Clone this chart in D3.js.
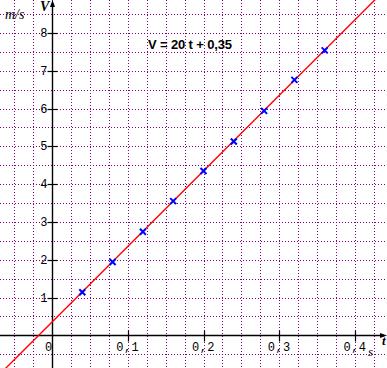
<!DOCTYPE html>
<html>
<head>
<meta charset="utf-8">
<script src="https://cdn.jsdelivr.net/npm/d3@7"></script>
<style>
  html, body { margin: 0; padding: 0; background: #fff; }
  svg { display: block; }
</style>
</head>
<body>
<div id="chart"></div>
<script>
// measured points (t in s, V in m/s)
var tValues = [0.04, 0.08, 0.12, 0.16, 0.20, 0.24, 0.28, 0.32, 0.36];
var vValues = [1.14, 1.94, 2.74, 3.55, 4.35, 5.13, 5.94, 6.76, 7.54];

// regression line V = 20 t + 0,35
var fitSlope = [20];
var fitIntercept = [0.35];

var xTicks = [0.1, 0.2, 0.3, 0.4];
var xTickLabels = ["0,1", "0,2", "0,3", "0,4"];
var yTicks = [1, 2, 3, 4, 5, 6, 7, 8];
var yTickLabels = ["1", "2", "3", "4", "5", "6", "7", "8"];

var width = 387, height = 368;

var x = d3.scaleLinear().domain([0, 0.4]).range([52, 355]);
var y = d3.scaleLinear().domain([0, 8]).range([335.3, 33]);

var svg = d3.select("#chart").append("svg")
    .attr("width", width)
    .attr("height", height);

// dotted grid, every 0.025 s and 0.5 m/s across the whole view
var tMin = x.invert(0), tMax = x.invert(width);
var vMin = y.invert(height), vMax = y.invert(0);
var gx = d3.range(Math.ceil(tMin / 0.025), Math.floor(tMax / 0.025) + 1).map(function(k) { return k * 0.025; });
var gy = d3.range(Math.ceil(vMin / 0.5), Math.floor(vMax / 0.5) + 1).map(function(k) { return k * 0.5; });

svg.append("g").selectAll("line").data(gx).enter().append("line")
    .attr("x1", function(d) { return Math.round(x(d)) + 0.5; })
    .attr("x2", function(d) { return Math.round(x(d)) + 0.5; })
    .attr("y1", 0).attr("y2", height)
    .attr("stroke", "#800080").attr("stroke-width", 1)
    .attr("stroke-dasharray", "1,2");

svg.append("g").selectAll("line").data(gy).enter().append("line")
    .attr("y1", function(d) { return Math.round(y(d)) + 0.5; })
    .attr("y2", function(d) { return Math.round(y(d)) + 0.5; })
    .attr("x1", 0).attr("x2", width)
    .attr("stroke", "#800080").attr("stroke-width", 1)
    .attr("stroke-dasharray", "1,2");

// axes
var x0 = Math.round(x(0)) + 0.5, y0 = Math.round(y(0)) + 0.5;
svg.append("line").attr("x1", 0).attr("x2", 384).attr("y1", y0).attr("y2", y0)
    .attr("stroke", "#000").attr("stroke-width", 1.4);
svg.append("path").attr("d", "M387," + y0 + "L380," + (y0 - 2.5) + "L380," + (y0 + 2.5) + "Z")
    .attr("fill", "#000");
svg.append("line").attr("x1", x0).attr("x2", x0).attr("y1", 3).attr("y2", height)
    .attr("stroke", "#000").attr("stroke-width", 1.4);
svg.append("path").attr("d", "M" + x0 + ",0L" + (x0 - 2.5) + ",7L" + (x0 + 2.5) + ",7Z")
    .attr("fill", "#000");

// ticks
svg.append("g").selectAll("line").data(xTicks).enter().append("line")
    .attr("x1", function(d) { return Math.round(x(d)) + 0.5; })
    .attr("x2", function(d) { return Math.round(x(d)) + 0.5; })
    .attr("y1", y0 - 5).attr("y2", y0 + 6)
    .attr("stroke", "#000").attr("stroke-width", 1.2);
svg.append("g").selectAll("line").data(yTicks).enter().append("line")
    .attr("y1", function(d) { return Math.round(y(d)) + 0.5; })
    .attr("y2", function(d) { return Math.round(y(d)) + 0.5; })
    .attr("x1", x0 - 5).attr("x2", x0 + 5)
    .attr("stroke", "#000").attr("stroke-width", 1.2);

var tickFont = "'Liberation Mono', 'DejaVu Sans Mono', monospace";

svg.append("g").selectAll("text").data(xTicks).enter().append("text")
    .attr("x", function(d) { return x(d); })
    .attr("y", y0 + 15)
    .attr("text-anchor", "middle")
    .style("font-family", tickFont).style("font-size", "12px")
    .style("letter-spacing", "0.5px")
    .attr("fill", "#000")
    .text(function(d, i) { return xTickLabels[i]; });

svg.append("text")
    .attr("x", x0 - 4).attr("y", y0 + 15)
    .attr("text-anchor", "middle")
    .style("font-family", tickFont).style("font-size", "12px")
    .text("0");

svg.append("g").selectAll("text").data(yTicks).enter().append("text")
    .attr("x", x0 - 5)
    .attr("y", function(d) { return y(d) + 4; })
    .attr("text-anchor", "end")
    .style("font-family", tickFont).style("font-size", "12px")
    .text(function(d, i) { return yTickLabels[i]; });

// axis titles
var serif = "'Liberation Serif', 'DejaVu Serif', serif";
svg.append("text").attr("x", 40).attr("y", 11)
    .style("font-family", serif).style("font-size", "14px")
    .style("font-style", "italic").style("font-weight", "bold")
    .text("V");
svg.append("text").attr("x", 5).attr("y", 19)
    .style("font-family", serif).style("font-size", "14px")
    .style("font-style", "italic")
    .text("m/s");
svg.append("text").attr("x", 382).attr("y", 345)
    .style("font-family", serif).style("font-size", "13px")
    .style("font-style", "italic").style("font-weight", "bold")
    .text("t");
svg.append("text").attr("x", 368).attr("y", 356)
    .style("font-family", serif).style("font-size", "13px")
    .style("font-style", "italic")
    .text("s");

// fitted line across the view
var lineT = [tMin, tMax];
var line = d3.line()
    .x(function(d) { return x(d); })
    .y(function(d) { return y(fitSlope[0] * d + fitIntercept[0]); });
svg.append("path").datum(lineT)
    .attr("d", line)
    .attr("fill", "none")
    .attr("stroke", "#ff0000")
    .attr("stroke-width", 1.4);

// equation
svg.append("text").attr("x", 148).attr("y", 49)
    .attr("textLength", 84).attr("lengthAdjust", "spacing")
    .style("font-family", "'Liberation Sans', Arial, sans-serif")
    .style("font-size", "13px").style("font-weight", "bold")
    .text("V = " + fitSlope[0] + " t + " + String(fitIntercept[0]).replace(".", ","));

// measured points as crosses
var pts = tValues.map(function(t, i) { return { t: t, v: vValues[i] }; });
var s = 3;
svg.append("g").selectAll("path").data(pts).enter().append("path")
    .attr("d", function(d) {
        var cx = x(d.t), cy = y(d.v);
        return "M" + (cx - s) + "," + (cy - s) + "L" + (cx + s) + "," + (cy + s) +
               "M" + (cx - s) + "," + (cy + s) + "L" + (cx + s) + "," + (cy - s);
    })
    .attr("stroke", "#0000ff")
    .attr("stroke-width", 2)
    .attr("fill", "none");
</script>
</body>
</html>
